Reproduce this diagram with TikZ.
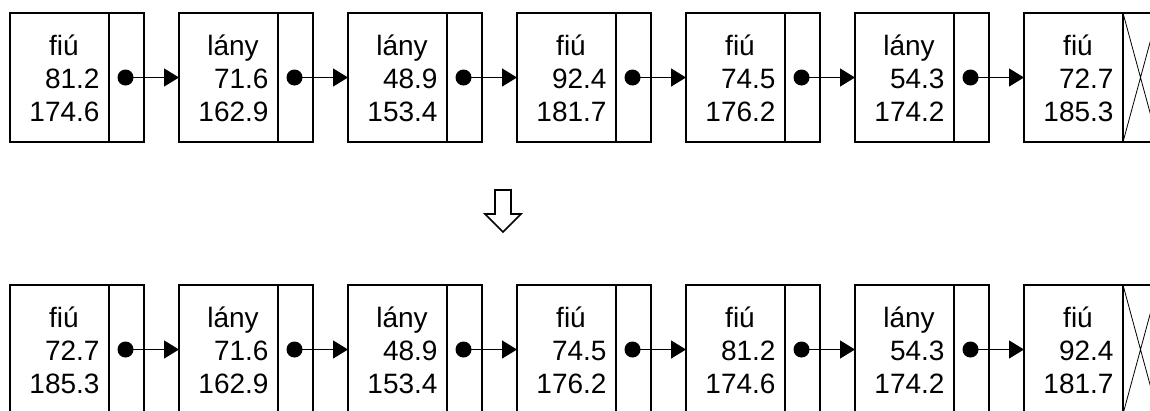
\documentclass[tikz,border=0pt]{standalone}
\usepackage{fontspec}
\setmainfont{Liberation Sans}
\usetikzlibrary{arrows.meta}
\begin{document}
\begin{tikzpicture}[x=1pt,y=-1pt,
  cell/.style={draw,line width=1.8pt,inner sep=0pt,outer sep=0pt,minimum height=129pt,anchor=north west},
  datacell/.style={cell,minimum width=99pt},
  ptrcell/.style={cell,minimum width=35pt},
  lbl/.style={inner sep=0pt,outer sep=0pt,font=\fontsize{28}{33}\selectfont},
  link/.style={line width=1.3pt,-{Triangle[length=15pt,width=18pt]}},
  cross/.style={line width=0.8pt},
  bigarrow/.style={line width=1.6pt,line join=miter}]
\useasboundingbox (0,0) rectangle (1150,410);
\clip (0,0) rectangle (1150,410);
% top row
\foreach [count=\i] \n/\a/\b in {fiú/81.2/174.6, lány/71.6/162.9, lány/48.9/153.4, fiú/92.4/181.7, fiú/74.5/176.2, lány/54.3/174.2, fiú/72.7/185.3} {
  \pgfmathsetmacro\L{10+169*(\i-1)}
  \node[datacell] (t\i) at (\L,13) {};
  \node[ptrcell] (tp\i) at (t\i.north east) {};
  \node[lbl,anchor=base] (tn\i) at (\L+54,55) {\n};
  \node[lbl,anchor=base east] (ta\i) at (\L+89.5,88) {\a};
  \node[lbl,anchor=base east] (tb\i) at (\L+89.5,121) {\b};
}
% bottom row
\foreach [count=\i] \n/\a/\b in {fiú/72.7/185.3, lány/71.6/162.9, lány/48.9/153.4, fiú/74.5/176.2, fiú/81.2/174.6, lány/54.3/174.2, fiú/92.4/181.7} {
  \pgfmathsetmacro\L{10+169*(\i-1)}
  \node[datacell] (b\i) at (\L,285) {};
  \node[ptrcell] (bp\i) at (b\i.north east) {};
  \node[lbl,anchor=base] (bn\i) at (\L+54,327) {\n};
  \node[lbl,anchor=base east] (ba\i) at (\L+89.5,360) {\a};
  \node[lbl,anchor=base east] (bb\i) at (\L+89.5,393) {\b};
}
% links
\foreach \i in {1,...,6} {
  \pgfmathtruncatemacro\j{\i+1}
  \coordinate (tc\i) at ([xshift=-1pt]tp\i.center);
  \coordinate (bc\i) at ([xshift=-1pt]bp\i.center);
  \fill (tc\i) circle[radius=8pt];
  \fill (bc\i) circle[radius=8pt];
  \draw[link] (tc\i) -- (t\j.west);
  \draw[link] (bc\i) -- (b\j.west);
}
% null pointers
\draw[cross] (tp7.north west) -- (tp7.south east) (tp7.north east) -- (tp7.south west);
\draw[cross] (bp7.north west) -- (bp7.south east) (bp7.north east) -- (bp7.south west);
% transformation arrow
\draw[bigarrow] (495,190) -- (511,190) -- (511,214) -- (521,214) -- (503,232) -- (485,214) -- (495,214) -- cycle;
\end{tikzpicture}
\end{document}
